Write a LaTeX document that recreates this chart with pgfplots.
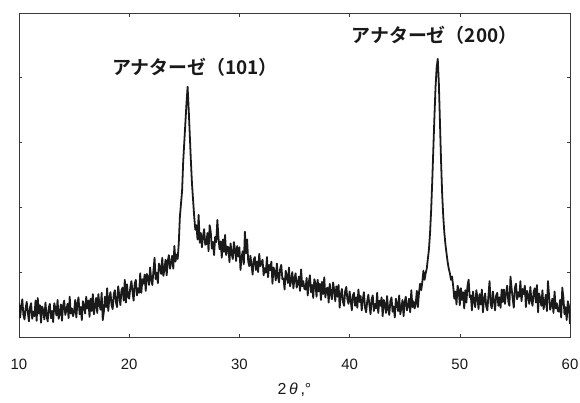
\documentclass[border=0pt]{standalone}
\usepackage{pgfplots}
\pgfplotsset{compat=1.18}
\usepackage{pgfplotstable}
\usepackage{fontspec}
\setmainfont{Liberation Sans}
\newfontfamily\jp{Noto Sans CJK JP}
\newfontfamily\jpb{Noto Sans CJK JP Bold}
\definecolor{ink}{HTML}{1A1A1A}
\definecolor{frame}{HTML}{3A3A3A}
\pgfplotstableread[row sep=\\]{
x y\\
10.0 0.52\\10.1 0.30\\10.2 0.47\\10.3 0.58\\10.4 0.34\\10.5 0.27\\10.6 0.44\\10.7 0.54\\10.8 0.38\\10.9 0.24\\
11.0 0.46\\11.1 0.52\\11.2 0.28\\11.3 0.39\\11.4 0.32\\11.5 0.56\\11.6 0.25\\11.7 0.60\\11.8 0.36\\11.9 0.49\\
12.0 0.22\\12.1 0.47\\12.2 0.41\\12.3 0.27\\12.4 0.53\\12.5 0.33\\12.6 0.24\\12.7 0.45\\12.8 0.51\\12.9 0.29\\
13.0 0.40\\13.1 0.23\\13.2 0.52\\13.3 0.44\\13.4 0.33\\13.5 0.57\\13.6 0.28\\13.7 0.37\\13.8 0.50\\13.9 0.25\\
14.0 0.48\\14.1 0.56\\14.2 0.34\\14.3 0.41\\14.4 0.51\\14.5 0.29\\14.6 0.62\\14.7 0.36\\14.8 0.44\\14.9 0.32\\
15.0 0.39\\15.1 0.57\\15.2 0.30\\15.3 0.51\\15.4 0.61\\15.5 0.35\\15.6 0.46\\15.7 0.26\\15.8 0.55\\15.9 0.48\\
16.0 0.36\\16.1 0.62\\16.2 0.44\\16.3 0.56\\16.4 0.31\\16.5 0.59\\16.6 0.40\\16.7 0.66\\16.8 0.35\\16.9 0.48\\
17.0 0.60\\17.1 0.37\\17.2 0.66\\17.3 0.50\\17.4 0.42\\17.5 0.68\\17.6 0.26\\17.7 0.39\\17.8 0.62\\17.9 0.46\\
18.0 0.75\\18.1 0.40\\18.2 0.60\\18.3 0.69\\18.4 0.49\\18.5 0.43\\18.6 0.66\\18.7 0.72\\18.8 0.53\\18.9 0.46\\
19.0 0.78\\19.1 0.64\\19.2 0.49\\19.3 0.72\\19.4 0.76\\19.5 0.56\\19.6 0.88\\19.7 0.53\\19.8 0.81\\19.9 0.62\\
20.0 0.59\\20.1 0.76\\20.2 0.86\\20.3 0.70\\20.4 0.56\\20.5 0.82\\20.6 0.88\\20.7 0.64\\20.8 0.75\\20.9 0.68\\
21.0 0.98\\21.1 0.68\\21.2 0.89\\21.3 0.82\\21.4 0.96\\21.5 0.71\\21.6 0.97\\21.7 0.92\\21.8 0.80\\21.9 1.07\\
22.0 0.88\\22.1 0.80\\22.2 1.02\\22.3 1.22\\22.4 0.89\\22.5 0.99\\22.6 0.83\\22.7 1.13\\22.8 1.07\\22.9 0.97\\
23.0 1.22\\23.1 0.94\\23.2 1.04\\23.3 1.19\\23.4 0.95\\23.5 1.17\\23.6 1.26\\23.7 1.05\\23.8 1.14\\23.9 1.25\\
24.0 1.05\\24.1 1.40\\24.2 1.16\\24.3 1.27\\24.4 1.20\\
24.5 1.45\\24.6 1.85\\24.7 2.05\\24.8 2.25\\24.9 2.70\\25.0 3.00\\25.1 3.30\\25.2 3.60\\25.3 3.85\\25.4 3.50\\
25.5 3.10\\25.6 2.70\\25.7 2.35\\25.8 2.10\\25.9 1.85\\26.0 1.65\\26.1 1.72\\26.2 1.50\\26.3 1.88\\26.4 1.45\\
26.5 1.60\\26.6 1.38\\26.7 1.55\\26.8 1.66\\26.9 1.42\\
27.0 1.43\\27.1 1.60\\27.2 1.32\\27.3 1.72\\27.4 1.62\\27.5 1.36\\27.6 1.46\\27.7 1.26\\27.8 1.54\\27.9 1.46\\
28.0 1.80\\28.1 1.53\\28.2 1.35\\28.3 1.47\\28.4 1.22\\28.5 1.50\\28.6 1.31\\28.7 1.57\\28.8 1.26\\28.9 1.39\\
29.0 1.38\\29.1 1.15\\29.2 1.44\\29.3 1.28\\29.4 1.20\\29.5 1.46\\29.6 1.35\\29.7 1.17\\29.8 1.40\\29.9 1.24\\
30.0 1.38\\30.1 1.03\\30.2 1.23\\30.3 1.32\\30.4 1.12\\30.5 1.62\\30.6 1.29\\30.7 1.50\\30.8 1.16\\30.9 1.09\\
31.0 1.25\\31.1 1.11\\31.2 0.96\\31.3 1.19\\31.4 1.23\\31.5 1.03\\31.6 1.16\\31.7 1.00\\31.8 1.28\\31.9 1.09\\
32.0 1.13\\32.1 1.19\\32.2 0.95\\32.3 1.06\\32.4 0.99\\32.5 1.23\\32.6 0.92\\32.7 1.11\\32.8 1.03\\32.9 1.16\\
33.0 0.82\\33.1 1.07\\33.2 1.01\\33.3 0.87\\33.4 1.13\\33.5 0.93\\33.6 0.84\\33.7 1.05\\33.8 1.11\\33.9 0.89\\
34.0 0.90\\34.1 0.73\\34.2 1.02\\34.3 0.94\\34.4 0.83\\34.5 1.07\\34.6 0.78\\34.7 0.87\\34.8 1.00\\34.9 0.75\\
35.0 0.90\\35.1 0.98\\35.2 0.76\\35.3 0.83\\35.4 0.93\\35.5 0.71\\35.6 1.04\\35.7 0.78\\35.8 0.86\\35.9 0.74\\
36.0 0.73\\36.1 0.91\\36.2 0.64\\36.3 0.85\\36.4 0.95\\36.5 0.69\\36.6 0.80\\36.7 0.60\\36.8 0.89\\36.9 0.82\\
37.0 0.62\\37.1 0.88\\37.2 0.70\\37.3 0.82\\37.4 0.57\\37.5 0.85\\37.6 0.66\\37.7 0.92\\37.8 0.61\\37.9 0.74\\
38.0 0.76\\38.1 0.53\\38.2 0.82\\38.3 0.66\\38.4 0.58\\38.5 0.84\\38.6 0.73\\38.7 0.55\\38.8 0.78\\38.9 0.62\\
39.0 0.80\\39.1 0.45\\39.2 0.65\\39.3 0.74\\39.4 0.54\\39.5 0.48\\39.6 0.71\\39.7 0.77\\39.8 0.58\\39.9 0.51\\
40.0 0.70\\40.1 0.56\\40.2 0.41\\40.3 0.64\\40.4 0.68\\40.5 0.48\\40.6 0.61\\40.7 0.45\\40.8 0.73\\40.9 0.54\\
41.0 0.63\\41.1 0.41\\41.2 0.58\\41.3 0.69\\41.4 0.45\\41.5 0.38\\41.6 0.55\\41.7 0.65\\41.8 0.49\\41.9 0.35\\
42.0 0.58\\42.1 0.64\\42.2 0.40\\42.3 0.51\\42.4 0.44\\42.5 0.68\\42.6 0.37\\42.7 0.56\\42.8 0.48\\42.9 0.61\\
43.0 0.32\\43.1 0.57\\43.2 0.51\\43.3 0.37\\43.4 0.63\\43.5 0.43\\43.6 0.34\\43.7 0.55\\43.8 0.61\\43.9 0.39\\
44.0 0.47\\44.1 0.30\\44.2 0.59\\44.3 0.51\\44.4 0.40\\44.5 0.64\\44.6 0.35\\44.7 0.44\\44.8 0.57\\44.9 0.32\\
45.0 0.54\\45.1 0.62\\45.2 0.41\\45.3 0.48\\45.4 0.59\\45.5 0.38\\45.6 0.72\\45.7 0.46\\45.8 0.55\\45.9 0.44\\
46.0 0.51\\46.1 0.71\\46.2 0.46\\46.3 0.69\\46.4 0.82\\46.5 0.72\\46.6 0.85\\46.7 1.02\\46.8 0.88\\46.9 0.98\\
47.0 1.05\\47.1 1.20\\47.2 1.35\\47.3 1.60\\47.4 1.95\\47.5 2.40\\47.6 2.90\\47.7 3.40\\47.8 3.85\\47.9 4.15\\
48.0 4.28\\48.1 3.90\\48.2 3.30\\48.3 2.70\\48.4 2.20\\48.5 1.85\\48.6 1.60\\48.7 1.42\\48.8 1.28\\48.9 1.15\\
49.0 1.05\\49.1 0.98\\49.2 0.88\\49.3 0.93\\49.4 0.78\\49.5 0.59\\49.6 0.70\\49.7 0.50\\49.8 0.79\\49.9 0.72\\
50.0 0.49\\50.1 0.75\\50.2 0.57\\50.3 0.69\\50.4 0.44\\50.5 0.72\\50.6 0.53\\50.7 0.79\\50.8 0.88\\50.9 0.61\\
51.0 0.64\\51.1 0.41\\51.2 0.70\\51.3 0.54\\51.4 0.46\\51.5 0.72\\51.6 0.61\\51.7 0.43\\51.8 0.66\\51.9 0.50\\
52.0 0.73\\52.1 0.38\\52.2 0.58\\52.3 0.67\\52.4 0.47\\52.5 0.41\\52.6 0.64\\52.7 0.86\\52.8 0.51\\52.9 0.44\\
53.0 0.70\\53.1 0.56\\53.2 0.41\\53.3 0.64\\53.4 0.68\\53.5 0.48\\53.6 0.61\\53.7 0.45\\53.8 0.73\\53.9 0.54\\
54.0 0.73\\54.1 0.51\\54.2 0.68\\54.3 0.79\\54.4 0.55\\54.5 0.48\\54.6 0.93\\54.7 0.75\\54.8 0.59\\54.9 0.45\\
55.0 0.76\\55.1 0.82\\55.2 0.58\\55.3 0.69\\55.4 0.62\\55.5 0.86\\55.6 0.55\\55.7 0.74\\55.8 0.66\\55.9 0.79\\
56.0 0.46\\56.1 0.71\\56.2 0.65\\56.3 0.51\\56.4 0.77\\56.5 0.57\\56.6 0.48\\56.7 0.69\\56.8 0.75\\56.9 0.53\\
57.0 0.80\\57.1 0.38\\57.2 0.67\\57.3 0.59\\57.4 0.48\\57.5 0.72\\57.6 0.43\\57.7 0.52\\57.8 0.65\\57.9 0.40\\
58.0 0.86\\58.1 0.64\\58.2 0.42\\58.3 0.49\\58.4 0.59\\58.5 0.37\\58.6 0.70\\58.7 0.44\\58.8 0.52\\58.9 0.40\\
59.0 0.39\\59.1 0.57\\59.2 0.30\\59.3 0.76\\59.4 0.61\\59.5 0.35\\59.6 0.46\\59.7 0.26\\59.8 0.55\\59.9 0.48\\
60.0 0.20\\
}\xrd
\begin{document}
\begin{tikzpicture}
\path[use as bounding box] (-19bp,-66bp) rectangle (561bp,337bp);
\begin{axis}[
  scale only axis,
  width=551bp, height=323bp,
  xmin=10, xmax=60, ymin=0, ymax=4.97,
  xtick={10,20,...,60},
  ytick={1,2,3,4},
  yticklabels={},
  tick align=inside,
  major tick length=3bp,
  tick style={frame, line width=0.6pt},
  axis line style={frame, line width=1pt},
  /pgf/number format/assume math mode=true,
  xticklabel style={font=\fontsize{15}{17}\selectfont, text=black!90, yshift=-19bp},
  xlabel={2\,\textit{θ}\,,°},
  xlabel style={font=\fontsize{16}{18}\selectfont, text=black!90, at={(axis description cs:0.5,0)}, anchor=center, yshift=-53bp},
  clip=true,
]
\addplot[ink, line width=1.8pt, line join=round] table[x=x, y=y] {\xrd};
\node[font=\jpb\fontsize{19}{21}\selectfont, text=black!90] at (axis cs:25.97,4.15) {アナターゼ（101）};
\node[font=\jpb\fontsize{19}{21}\selectfont, text=black!90] at (axis cs:47.7,4.65) {アナターゼ（200）};
\end{axis}
\end{tikzpicture}
\end{document}
